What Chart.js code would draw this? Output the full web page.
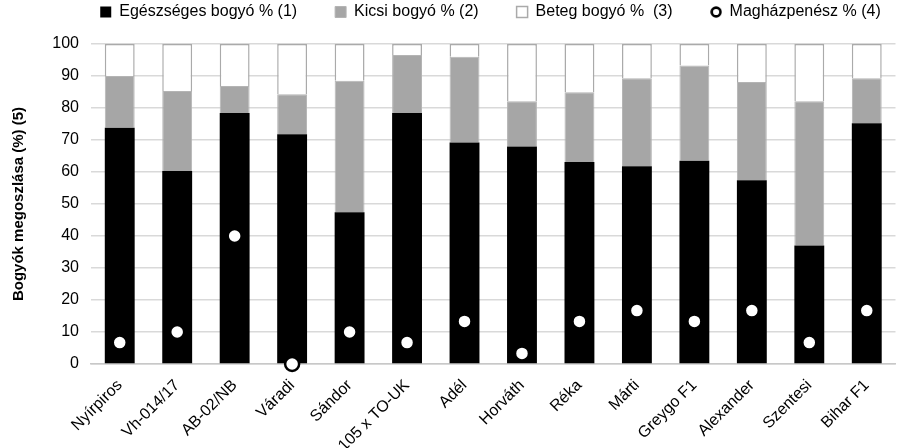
<!DOCTYPE html>
<html>
<head>
<meta charset="utf-8">
<script src="https://cdn.jsdelivr.net/npm/chart.js@4/dist/chart.umd.min.js"></script>
<style>
  html, body { margin: 0; padding: 0; background: #fff; overflow: hidden; }
  #wrap { width: 905px; height: 448px; }
</style>
</head>
<body>
<div id="wrap"><canvas id="chart"></canvas></div>
<script>
const varieties = ["Nyírpiros", "Vh-014/17", "AB-02/NB", "Váradi", "Sándor", "105 x TO-UK", "Adél",
  "Horváth", "Réka", "Márti", "Greygo F1", "Alexander", "Szentesi", "Bihar F1"];

const healthy = [73.8, 60.3, 78.4, 71.8, 47.4, 78.4, 69.2, 68.0, 63.1, 61.8, 63.5, 57.4, 37.0, 75.2];
const small = [16.2, 25.0, 8.5, 12.5, 41.1, 18.2, 26.8, 14.1, 21.8, 27.5, 29.8, 30.7, 45.1, 14.1];
const sick = [10.0, 14.7, 13.1, 15.7, 11.5, 3.4, 4.0, 17.9, 15.1, 10.7, 6.7, 11.9, 17.9, 10.7];
const mould = [6.7, 10, 40, 0, 10, 6.7, 13.3, 3.3, 13.3, 16.7, 13.3, 16.7, 6.7, 16.7];

const yTicks = [0, 10, 20, 30, 40, 50, 60, 70, 80, 90, 100];

const FONT = "'Liberation Sans', Arial, sans-serif";

// small ring used as legend marker for the dot series
const ring = document.createElement("canvas");
ring.width = 12;
ring.height = 12;
(function () {
  const c = ring.getContext("2d");
  c.beginPath();
  c.arc(6, 6, 4.4, 0, Math.PI * 2);
  c.fillStyle = "#fff";
  c.fill();
  c.lineWidth = 2.6;
  c.strokeStyle = "#000";
  c.stroke();
})();

// legend: fixed height, moved up (the wide item padding also pads vertically) and right
const legendTweak = {
  id: "legendTweak",
  beforeInit(chart) {
    const origFit = chart.legend.fit;
    chart.legend.fit = function () {
      origFit.call(this);
      this.height = 44;
    };
  },
  afterLayout(chart) {
    const lg = chart.legend;
    lg.left += 38;
    lg.right += 38;
    lg.top = -34;
    lg.bottom = 40;
  }
};

const ctx = document.getElementById("chart").getContext("2d");

new Chart(ctx, {
  data: {
    labels: varieties,
    datasets: [
      {
        type: "bar",
        label: "Egészséges bogyó % (1)",
        data: healthy,
        backgroundColor: "#000000",
        borderColor: "#000000",
        borderWidth: 0,
        pointStyle: "rect",
        order: 1
      },
      {
        type: "bar",
        label: "Kicsi bogyó % (2)",
        data: small,
        backgroundColor: "#a6a6a6",
        borderColor: "#b4b4b4",
        borderWidth: 1,
        pointStyle: "rect",
        order: 1
      },
      {
        type: "bar",
        label: "Beteg bogyó %  (3)",
        data: sick,
        backgroundColor: "#ffffff",
        borderColor: "#aaaaaa",
        borderWidth: 1.5,
        pointStyle: "rect",
        order: 1
      },
      {
        type: "line",
        label: "Magházpenész % (4)",
        data: mould,
        showLine: false,
        stack: "dots",
        pointStyle: "circle",
        pointRadius: 7,
        pointBorderWidth: 2.5,
        pointBackgroundColor: "#ffffff",
        pointBorderColor: "#000000",
        clip: false,
        order: 0
      }
    ]
  },
  options: {
    responsive: true,
    maintainAspectRatio: false,
    animation: false,
    datasets: {
      bar: { barPercentage: 0.52, categoryPercentage: 1 }
    },
    layout: { padding: { left: 0, right: 0, top: 0, bottom: 0 } },
    plugins: {
      tooltip: { enabled: false },
      legend: {
        position: "top",
        align: "center",
        labels: {
          usePointStyle: true,
          boxHeight: 11,
          boxWidth: 11,
          padding: 38,
          color: "#000",
          font: { family: FONT, size: 16 },
          sort: (a, b) => a.datasetIndex - b.datasetIndex,
          generateLabels(chart) {
            const items = Chart.defaults.plugins.legend.labels.generateLabels(chart);
            items.forEach((it) => {
              if (it.datasetIndex === 3) it.pointStyle = ring;
            });
            return items;
          }
        }
      }
    },
    scales: {
      x: {
        stacked: true,
        grid: { display: false, drawTicks: false },
        border: { display: true, color: "#c8c8c8", width: 1.5 },
        ticks: {
          color: "#000",
          font: { family: FONT, size: 16 },
          minRotation: 45,
          maxRotation: 45,
          padding: 12,
          labelOffset: 0
        },
        afterFit(scale) { scale.height = 84; }
      },
      y: {
        stacked: true,
        min: 0,
        max: 100,
        afterBuildTicks(scale) { scale.ticks = yTicks.map((v) => ({ value: v })); },
        grid: { color: "#d9d9d9", lineWidth: 1.5, drawTicks: false },
        border: { display: false },
        ticks: {
          color: "#000",
          font: { family: FONT, size: 16 },
          padding: 12
        },
        title: {
          display: true,
          text: "Bogyók megoszlása (%) (5)",
          color: "#000",
          font: { family: FONT, size: 15, weight: "bold" },
          padding: { top: 10, bottom: 0 }
        },
        afterFit(scale) { scale.width = 91; }
      }
    }
  },
  plugins: [legendTweak]
});
</script>
</body>
</html>
